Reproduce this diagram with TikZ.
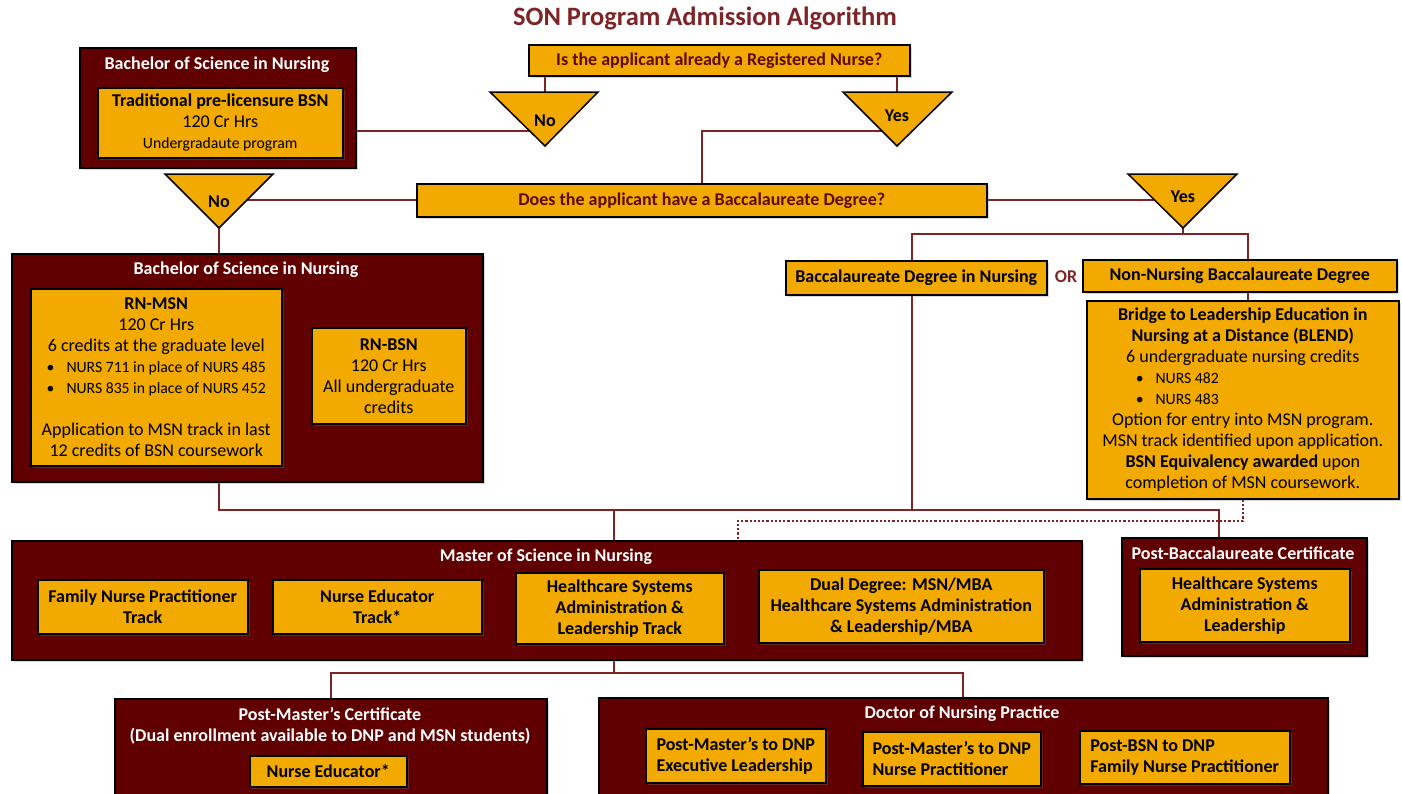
\documentclass[tikz,border=0pt]{standalone}
\usepackage{fontspec}
\setmainfont{Carlito}
\usetikzlibrary{shadows}
\definecolor{sonred}{HTML}{600000}
\definecolor{sonline}{HTML}{7E2427}
\definecolor{sonorange}{HTML}{F2A900}
\definecolor{sontext}{HTML}{5C0A0A}
\pgfdeclarelayer{back}
\pgfsetlayers{back,main}
\newcommand{\body}{\fontsize{18}{21}\selectfont}
\newcommand{\smtxt}{\fontsize{15.7}{19}\selectfont}
\tikzstyle{outer} = [draw=black, line width=1.5pt, fill=sonred, inner sep=0pt, anchor=north west, drop shadow={opacity=0.3, shadow xshift=2pt, shadow yshift=-2pt}]
\tikzstyle{ibox} = [draw=black, line width=1.5pt, fill=sonorange, inner sep=2pt, anchor=north west, align=center, font=\body, drop shadow={opacity=0.3, shadow xshift=2pt, shadow yshift=-2pt}]
\tikzstyle{quest} = [ibox, font=\bfseries\body, text=sontext]
\tikzstyle{head} = [text=white, font=\bfseries\body, align=center]
\tikzstyle{tri} = [draw=black, line width=1.5pt, fill=sonorange, line join=miter]
\tikzstyle{tlab} = [font=\bfseries\body, inner sep=1pt]
\tikzstyle{wire} = [draw=sonline, line width=2.2pt]
\tikzstyle{dotwire} = [draw=sonline, line width=2.2pt, dotted]
\newcommand{\bul}{\textbullet\hspace{12pt}}

\begin{document}
\begin{tikzpicture}[x=1pt, y=-1pt]
\useasboundingbox (0,0) rectangle (1402,793);
\clip (0,0) rectangle (1402,793);

\node[font=\bfseries\fontsize{26.5}{30}\selectfont, text=sonline] (title) at (705,18) {SON Program Admission Algorithm};

\node[quest, minimum width=381, minimum height=31] (q1) at (528,44) {Is the applicant already a Registered Nurse?};
\node[quest, minimum width=570, minimum height=33] (q2) at (416,183) {Does the applicant have a Baccalaureate Degree?};

\fill[tri] (490,92) -- (598,92) -- (545,146) -- cycle;
\node[tlab] (no1) at (545,121) {No};
\fill[tri] (843,92) -- (952,92) -- (897,146) -- cycle;
\node[tlab] (yes1) at (897,116) {Yes};
\fill[tri] (165,174) -- (273,174) -- (219,228) -- cycle;
\node[tlab] (no2) at (219,202) {No};
\fill[tri] (1128,174) -- (1237,174) -- (1183,228) -- cycle;
\node[tlab] (yes2) at (1183,197) {Yes};

\node[outer, minimum width=276, minimum height=120] (bsn1) at (79,47) {};
\node[head] (bsn1t) at (217,65) {Bachelor of Science in Nursing};
\node[ibox, minimum width=245, minimum height=70] (trad) at (97,87)
  {\textbf{Traditional pre-licensure BSN}\\120 Cr Hrs\\{\smtxt Undergradaute program}};

\node[outer, minimum width=471, minimum height=228] (bsn2) at (11,253) {};
\node[head] (bsn2t) at (246,270) {Bachelor of Science in Nursing};
\node[ibox, minimum width=251, minimum height=177] (rnmsn) at (30,288)
  {\textbf{RN-MSN}\\120 Cr Hrs\\6 credits at the graduate level\\
   {\smtxt\bul NURS 711 in place of NURS 485}\\
   {\smtxt\bul NURS 835 in place of NURS 452}\\[21pt]
   Application to MSN track in last\\12 credits of BSN coursework};
\node[ibox, minimum width=154, minimum height=96] (rnbsn) at (311,327)
  {\textbf{RN-BSN}\\120 Cr Hrs\\All undergraduate\\credits};

\node[ibox, font=\bfseries\body, minimum width=261, minimum height=34] (bdn) at (785,260) {Baccalaureate Degree in Nursing};
\node[font=\bfseries\body, text=sonline] (or) at (1066,277) {OR};
\node[ibox, font=\bfseries\body, minimum width=314, minimum height=32] (nnb) at (1082,259) {Non-Nursing Baccalaureate Degree};
\node[ibox, minimum width=312, minimum height=198] (blend) at (1086,300)
  {\textbf{Bridge to Leadership Education in}\\\textbf{Nursing at a Distance (BLEND)}\\
   6 undergraduate nursing credits\\
   {\smtxt\makebox[214pt][l]{\bul NURS 482}}\\
   {\smtxt\makebox[214pt][l]{\bul NURS 483}}\\
   Option for entry into MSN program.\\MSN track identified upon application.\\
   \textbf{BSN Equivalency awarded} upon\\completion of MSN coursework.};

\node[outer, minimum width=1070, minimum height=119] (msn) at (11,540) {};
\node[head] (msnt) at (546,557) {Master of Science in Nursing};
\node[ibox, font=\bfseries\body, minimum width=210, minimum height=54] (fnp) at (37,579) {Family Nurse Practitioner\\Track};
\node[ibox, font=\bfseries\body, minimum width=209, minimum height=54] (ne) at (272,579) {Nurse Educator\\Track*};
\node[ibox, font=\bfseries\body, minimum width=208, minimum height=71] (hsal) at (515,572) {Healthcare Systems\\Administration \&\\Leadership Track};
\node[ibox, font=\bfseries\body, minimum width=285, minimum height=73] (dual) at (758,569) {Dual Degree: MSN/MBA\\Healthcare Systems Administration\\\& Leadership/MBA};

\node[outer, minimum width=245, minimum height=118] (pbc) at (1121,537) {};
\node[head] (pbct) at (1243,553) {Post-Baccalaureate Certificate};
\node[ibox, font=\bfseries\body, minimum width=210, minimum height=73] (pbcin) at (1139,568) {Healthcare Systems\\Administration \&\\Leadership};

\node[outer, minimum width=432, minimum height=115] (pmc) at (114,698) {};
\node[head] (pmct) at (330,726) {Post-Master’s Certificate\\(Dual enrollment available to DNP and MSN students)};
\node[ibox, font=\bfseries\body, minimum width=157, minimum height=31] (nedu) at (249,755) {Nurse Educator*};

\node[outer, minimum width=729, minimum height=115] (dnp) at (598,697) {};
\node[head] (dnpt) at (962,714) {Doctor of Nursing Practice};
\node[ibox, font=\bfseries\body, align=left, minimum width=180, minimum height=54] (dnp1) at (645,728) {Post-Master’s to DNP\\Executive Leadership};
\node[ibox, font=\bfseries\body, align=left, minimum width=178, minimum height=54] (dnp2) at (862,731) {Post-Master’s to DNP\\Nurse Practitioner};
\node[ibox, font=\bfseries\body, align=left, minimum width=210, minimum height=53] (dnp3) at (1079,730) {Post-BSN to DNP\\Family Nurse Practitioner};

\coordinate (hubA) at (545,131);
\coordinate (hubB) at (897,131);
\coordinate (hubC) at (219,200);
\coordinate (hubD) at (1183,200);
\coordinate (forkD) at (1183,234);
\coordinate (bdnup) at (912,234);
\coordinate (nnbup) at (1248,234);
\coordinate (hubE) at (614,510);
\coordinate (dotE) at (738,521);
\coordinate (hubF) at (614,673);

\begin{pgfonlayer}{back}
\draw[wire] (q1.south -| hubA) -- (hubA) -- (hubA -| bsn1.east);
\draw[wire] (q1.south -| hubB) -- (hubB) -| (q2.north);
\draw[wire] (q2.west) -- (q2.west -| hubC);
\draw[wire] (hubC) -- (hubC |- bsn2.north);
\draw[wire] (q2.east) -- (q2.east -| hubD);
\draw[wire] (hubD) -- (forkD);
\draw[wire] (bdnup |- bdn.north) -- (bdnup) -- (nnbup) -- (nnbup |- nnb.north);
\draw[wire] (nnbup |- nnb.south) -- (nnbup |- blend.north);
\draw[wire] (hubC |- bsn2.south) |- (hubE) -| ([xshift=-25pt]pbc.north);
\draw[wire] (hubE) -- (hubE |- msn.north);
\draw[wire] (bdnup |- bdn.south) -- (bdnup |- hubE);
\draw[dotwire] (blend.south) |- (dotE) -- (dotE |- msn.north);
\draw[wire] (hubF |- msn.south) -- (hubF);
\draw[wire] (hubF) -| (pmc.north);
\draw[wire] (hubF) -| (dnp.north);
\end{pgfonlayer}
\end{tikzpicture}
\end{document}
